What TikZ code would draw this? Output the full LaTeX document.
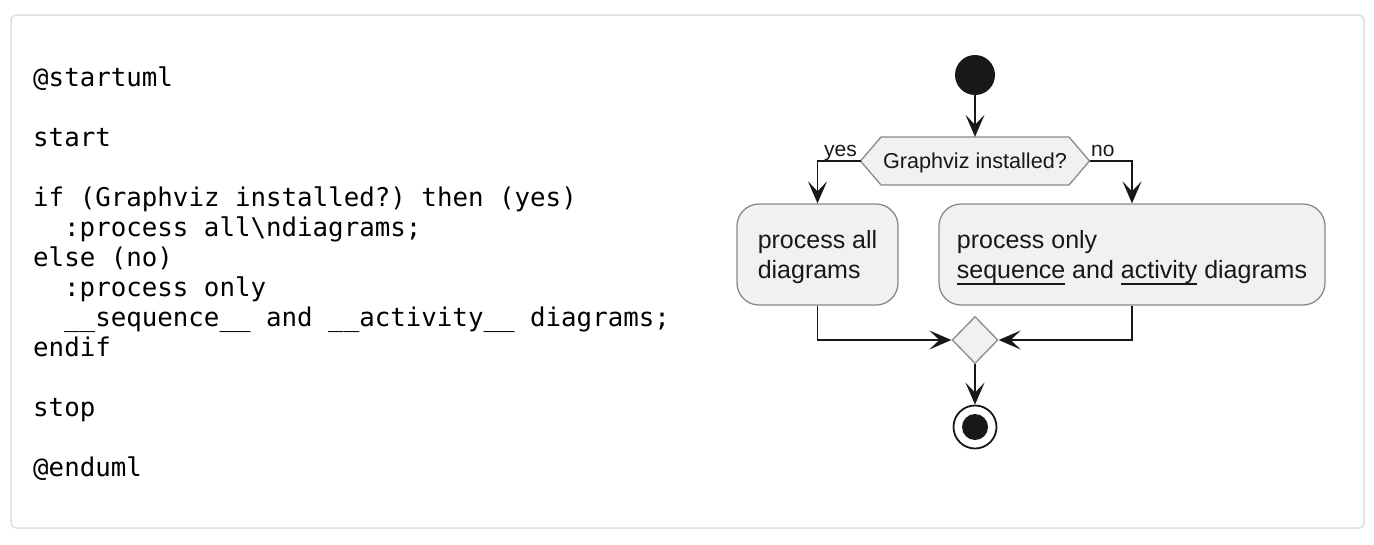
\documentclass[tikz,border=0pt]{standalone}
\usepackage{fontspec}
\usetikzlibrary{arrows.meta,shapes.geometric}

\newfontfamily\codefont{DejaVu Sans Mono}
\newfontfamily\umlfont{Liberation Sans}

\definecolor{umlfill}{HTML}{F1F1F1}
\definecolor{umlink}{HTML}{181818}
\definecolor{umledge}{HTML}{8A8A8A}
\definecolor{framegray}{HTML}{DDE0E4}

% underlined word, rule just under the descenders
\newcommand{\ulword}[1]{\setbox0\hbox{#1}\rlap{\color{umlink}\rule[-6pt]{\wd0}{2pt}}\box0\relax}

\tikzset{
  codeline/.style={anchor=base west,inner sep=0pt,font=\codefont\fontsize{25.8}{30}\selectfont\frenchspacing},
  actbox/.style={draw=umledge,line width=1.3pt,fill=umlfill,rounded corners=22pt,minimum height=101pt,
    align=left,text=umlink,text depth=0pt,inner sep=0pt,font=\umlfont\fontsize{25}{30}\selectfont},
  hexbox/.style={draw=umledge,line width=1.3pt,fill=umlfill},
  hextext/.style={minimum width=188pt,minimum height=48pt,inner sep=0pt,text=umlink,text depth=0pt,
    font=\umlfont\fontsize{21.6}{25}\selectfont},
  mergebox/.style={diamond,draw=umledge,fill=umlfill,line width=1.3pt,minimum width=46pt,minimum height=47pt,inner sep=0pt},
  startdot/.style={circle,fill=umlink,minimum size=40pt,inner sep=0pt},
  stopring/.style={circle,draw=umlink,line width=1.8pt,fill=white,minimum size=43pt,inner sep=0pt},
  stopdot/.style={circle,fill=umlink,minimum size=26pt,inner sep=0pt},
  flow/.style={draw=umlink,line width=1.8pt,-{Stealth[length=22pt,width=19pt,inset=10pt]}},
  lbl/.style={inner sep=0pt,text=umlink,font=\umlfont\fontsize{21}{25}\selectfont}
}

\begin{document}
\begin{tikzpicture}[x=1pt,y=-1pt]
\useasboundingbox[fill=white] (0,0) rectangle (1374,544);
\draw[framegray,line width=1.5pt,rounded corners=5pt] (11,15) rectangle (1364,528);

% source text
\foreach \k/\x/\txt in {0/33/@startuml,2/33/start,4/33/if (Graphviz installed?) then (yes),
  5/64/:process all\textbackslash ndiagrams;,6/33/else (no),7/64/:process only,
  8/64/\_\_sequence\_\_ and \_\_activity\_\_ diagrams;,9/33/endif,11/33/stop,13/33/@enduml}
  \node[codeline] (c\k) at (\x,{86+30*\k}) {\txt};

% activity diagram
\node[startdot] (start) at (975,75) {};
\draw[hexbox] (860.5,161) -- (881,137) -- (1069,137) -- (1089.5,161) -- (1069,185) -- (881,185) -- cycle;
\node[hextext] (dec) at (975,161) {Graphviz installed?};
\coordinate (decW) at (860.5,161);
\coordinate (decE) at (1089.5,161);
\node[lbl,anchor=base east] (yes) at (857,156) {yes};
\node[lbl,anchor=base west] (no) at (1091,156) {no};

\node[actbox,minimum width=161pt] (all) at (817.5,254.5) {process all\\diagrams};
\node[actbox,minimum width=386pt] (only) at (1132,254.5) {process only\\\ulword{sequence} and \ulword{activity} diagrams};

\node[mergebox] (merge) at (975,340) {};
\node[stopring] (stop) at (975,427) {};
\node[stopdot] (stopin) at (stop) {};

\draw[flow] (start) -- (dec);
\draw[flow] (decW) -| (all);
\draw[flow] (decE) -| (only);
\draw[flow] (all) |- (merge);
\draw[flow] (only) |- (merge);
\draw[flow] (merge) -- (stop);
\end{tikzpicture}
\end{document}
